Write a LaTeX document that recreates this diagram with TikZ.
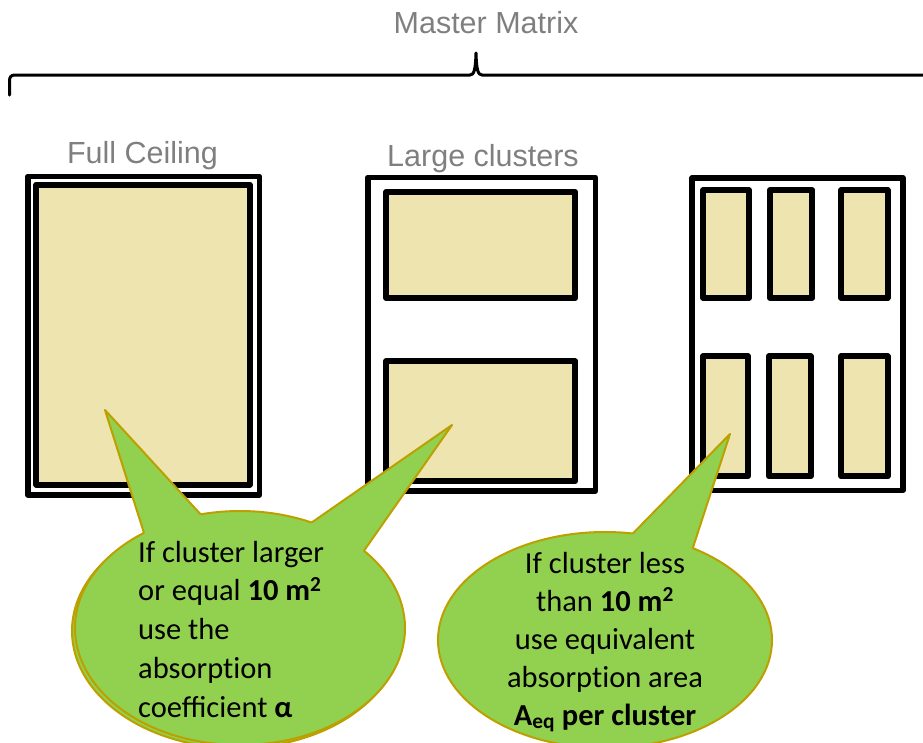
\documentclass[tikz,border=0pt]{standalone}
\usepackage{fontspec}
\setmainfont{Carlito}
\newfontfamily\arialf{Liberation Sans}
\usetikzlibrary{calc}
\definecolor{beige}{RGB}{238,228,176}
\definecolor{callgreen}{RGB}{146,208,80}
\definecolor{callline}{RGB}{188,160,0}
\definecolor{titlegray}{RGB}{127,127,127}
\begin{document}
\begin{tikzpicture}[x=1pt,y=1pt, line join=round,
  frame/.style={draw=black, line width=5.5pt},
  tile/.style={draw=black, fill=beige, line width=6pt},
  callout/.style={fill=callgreen, draw=callline, line width=2pt},
  tailedge/.style={draw=callline, line width=2pt},
  heading/.style={font=\arialf\fontsize{30.5}{36}\selectfont, text=titlegray, inner sep=0pt, anchor=base},
  bubbletext/.style={inner sep=0pt, text=black}]
\useasboundingbox (0,0) rectangle (923,-742);
\clip (0,0) rectangle (923,-742);

% title and brace
\node[heading] (title) at (486,-33) {Master Matrix};
\draw[line width=3pt, line cap=round] (9.5,-95) -- (9.5,-81)
  .. controls (9.5,-77) and (11,-75) .. (15,-75) -- (470,-75)
  .. controls (474,-75) and (475.5,-70) .. (476,-53)
  .. controls (476.5,-70) and (478,-75) .. (482,-75) -- (930,-75);

% headings
\node[heading] (full) at (142.5,-163) {Full Ceiling};
\node[heading] (large) at (483,-166) {Large clusters};

% full ceiling
\draw[frame] (27.8,-176.3) rectangle (259.5,-495);
\draw[tile] (36.3,-184.7) rectangle (249.7,-484.5);

% large clusters
\draw[frame] (367.8,-177.5) rectangle (595.3,-491);
\draw[tile] (386.3,-191.8) rectangle (575.3,-298);
\draw[tile] (386.3,-361.2) rectangle (575.3,-481.2);

% small clusters
\draw[frame] (692.2,-177.8) rectangle (903,-490.3);
\draw[tile] (703.3,-190) rectangle (748.7,-298);
\draw[tile] (770,-190) rectangle (812.2,-298);
\draw[tile] (841.2,-190) rectangle (887.5,-298);
\draw[tile] (703.3,-356.3) rectangle (747.8,-476.3);
\draw[tile] (768.8,-356.3) rectangle (810.5,-476.3);
\draw[tile] (841.2,-356.3) rectangle (887.5,-476.3);

% left callout
\coordinate (cL) at (240,-628);
\draw[callout] (237,-631) ellipse [x radius=165, y radius=117];
\draw[callout] (cL) ellipse [x radius=165, y radius=117];
\path (cL) ++(125.6:165 and 117) coordinate (a1);
\path (cL) ++(103.8:165 and 117) coordinate (a2);
\path (cL) ++(64.3:165 and 117) coordinate (b1);
\path (cL) ++(41.3:165 and 117) coordinate (b2);
\coordinate (tipA) at (105,-410);
\coordinate (tipB) at (452,-425);
\fill[callgreen] (tipA) -- (a1) -- (cL) -- (a2) -- cycle;
\fill[callgreen] (tipB) -- (b1) -- (cL) -- (b2) -- cycle;
\draw[tailedge] (a1) -- (tipA) -- (a2);
\draw[tailedge] (b1) -- (tipB) -- (b2);

% right callout
\coordinate (cR) at (605,-640);
\draw[callout] (cR) ellipse [x radius=167, y radius=108];
\path (cR) ++(80.4:167 and 108) coordinate (c1);
\path (cR) ++(58.3:167 and 108) coordinate (c2);
\coordinate (tipC) at (730,-434);
\fill[callgreen] (tipC) -- (c1) -- (cR) -- (c2) -- cycle;
\draw[tailedge] (c1) -- (tipC) -- (c2);

% texts
\node[bubbletext, anchor=base west, font=\fontsize{30.5}{38.75}\selectfont] (tL) at (138,-562)
 {\begin{tabular}[t]{@{}l@{}}If cluster larger\\ or equal \textbf{10 m\textsuperscript{2}}\\ use the\\ absorpt\kern0pt ion\\ coefficient \textbf{α}\end{tabular}};
\node[bubbletext, anchor=base, font=\fontsize{30.5}{38}\selectfont] (tR) at (605,-573)
 {\begin{tabular}[t]{@{}c@{}}If cluster less\\ than \textbf{10 m\textsuperscript{2}}\\ use equivalent\\ absorpt\kern0pt ion area\\ \textbf{A\textsubscript{eq} per cluster}\end{tabular}};
\end{tikzpicture}
\end{document}
